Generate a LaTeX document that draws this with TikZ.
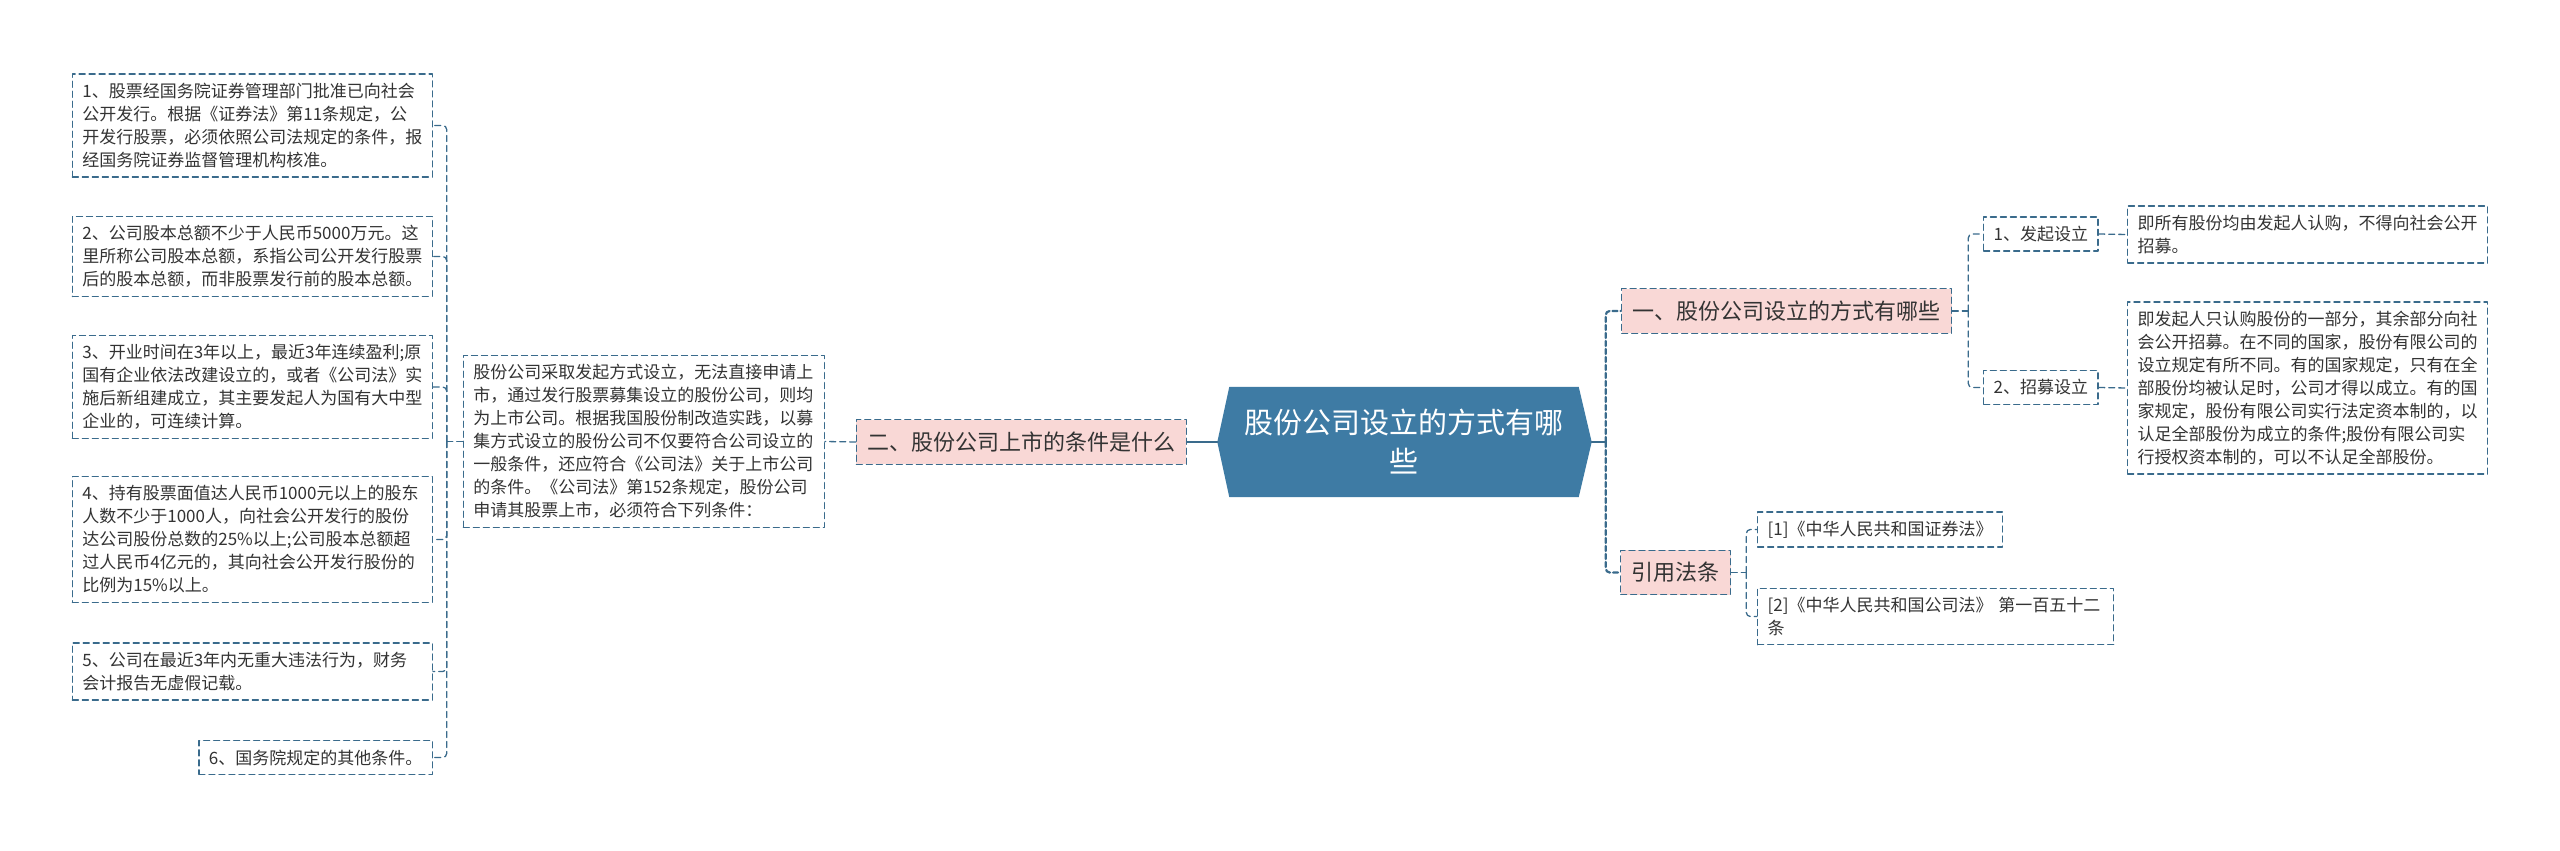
\documentclass[tikz,border=0pt]{standalone}
\usepackage{fontspec}
\setmainfont{Noto Sans CJK SC}
\usepackage{xcolor}
\usetikzlibrary{backgrounds,calc,positioning}
\definecolor{mmline}{HTML}{3A6B8C}
\definecolor{mmroot}{HTML}{3E7BA4}
\definecolor{mmpink}{HTML}{F9D8D6}
\definecolor{mmtext}{HTML}{333333}
\tikzset{
  every picture/.append style={line cap=round,line join=round},
  mm dash/.style={draw=mmline,line width=1.3pt,dash pattern=on 6pt off 4pt},
  mm leaf/.style={mm dash,fill=white,text=mmtext,inner xsep=10pt,inner ysep=9pt,align=left,font=\fontsize{17}{23}\selectfont},
  mm para/.style={mm leaf,text width=#1},
  mm topic/.style={mm dash,fill=mmpink,text=mmtext,inner xsep=11pt,inner ysep=12pt,font=\fontsize{22}{28}\selectfont},
  mm root/.style={minimum width=349pt,minimum height=110pt,text=white,align=center,font=\fontsize{29}{39}\selectfont},
  mm link/.style={mmline,line width=1.3pt,dash pattern=on 6pt off 4pt,rounded corners=4pt},
  mm trunk/.style={mmline,line width=2.2pt}
}

\begin{document}
\begin{tikzpicture}[x=1pt,y=-1pt]
  \useasboundingbox (0,0) rectangle (2560,851);

  \node[mm root] (root) at (1404,442) {股份公司设立的方式有哪\\些};
  \begin{scope}[on background layer]
    \fill[white] (0,0) rectangle (2560,851);
    \fill[mmroot] (root.north west) -- (root.north east) -- ([xshift=13pt]root.east)
      -- (root.south east) -- (root.south west) -- ([xshift=-12pt]root.west) -- cycle;
  \end{scope}
  \coordinate (rootL) at ([xshift=-12pt]root.west);
  \coordinate (rootR) at ([xshift=13pt]root.east);

  \node[mm topic, anchor=east] (n2) at (1187,442) {二、股份公司上市的条件是什么};
  \node[mm para=341pt, anchor=east] (mid) at (825,441.5) {股份公司采取发起方式设立，无法直接申请上\\市，通过发行股票募集设立的股份公司，则均\\为上市公司。根据我国股份制改造实践，以募\\集方式设立的股份公司不仅要符合公司设立的\\一般条件，还应符合《公司法》关于上市公司\\的条件。《公司法》第152条规定，股份公司\\申请其股票上市，必须符合下列条件：};

  \node[mm para=340pt, anchor=east] (c1) at (433,125.5) {1、股票经国务院证券管理部门批准已向社会\\公开发行。根据《证券法》第11条规定，公\\开发行股票，必须依照公司法规定的条件，报\\经国务院证券监督管理机构核准。};
  \node[mm para=340pt, anchor=east] (c2) at (433,256.5) {2、公司股本总额不少于人民币5000万元。这\\里所称公司股本总额，系指公司公开发行股票\\后的股本总额，而非股票发行前的股本总额。};
  \node[mm para=340pt, anchor=east] (c3) at (433,387) {3、开业时间在3年以上，最近3年连续盈利;原\\国有企业依法改建设立的，或者《公司法》实\\施后新组建成立，其主要发起人为国有大中型\\企业的，可连续计算。};
  \node[mm para=340pt, anchor=east] (c4) at (433,539.5) {4、持有股票面值达人民币1000元以上的股东\\人数不少于1000人，向社会公开发行的股份\\达公司股份总数的25\%以上;公司股本总额超\\过人民币4亿元的，其向社会公开发行股份的\\比例为15\%以上。};
  \node[mm para=340pt, anchor=east] (c5) at (433,671.5) {5、公司在最近3年内无重大违法行为，财务\\会计报告无虚假记载。};
  \node[mm leaf, anchor=east] (c6) at (433,757.5) {6、国务院规定的其他条件。};

  \node[mm topic, anchor=west] (n1) at (1621,311) {一、股份公司设立的方式有哪些};
  \node[mm leaf, anchor=west] (a1) at (1983,234) {1、发起设立};
  \node[mm leaf, anchor=west] (a2) at (1983,387.5) {2、招募设立};
  \node[mm para=340pt, anchor=west] (b1) at (2127,234.5) {即所有股份均由发起人认购，不得向社会公开\\招募。};
  \node[mm para=340pt, anchor=west] (b2) at (2127,388) {即发起人只认购股份的一部分，其余部分向社\\会公开招募。在不同的国家，股份有限公司的\\设立规定有所不同。有的国家规定，只有在全\\部股份均被认足时，公司才得以成立。有的国\\家规定，股份有限公司实行法定资本制的，以\\认足全部股份为成立的条件;股份有限公司实\\行授权资本制的，可以不认足全部股份。};

  \node[mm topic, anchor=west] (n3) at (1620,572.5) {引用法条};
  \node[mm leaf, anchor=west] (r1) at (1757,529.5) {[1]《中华人民共和国证券法》};
  \node[mm para=336pt, anchor=west] (r2) at (1757,616.5) {[2]《中华人民共和国公司法》~第一百五十二\\条};

  \draw[mm trunk] (rootL) -- (n2.east);
  \draw[mm link] (n2.west) -- (mid.east);
  \draw[mm link] (mid.west) -- ++(-16,0) coordinate (lspine);
  \foreach \c in {c1,c2,c3,c4,c5,c6}
    \draw[mm link] (lspine) |- (\c.east);

  \draw[mm trunk] (rootR) -- ++(14,0) coordinate (rspine);
  \draw[mm link, line width=2.2pt, dash pattern=on 5pt off 3pt] (rspine) |- (n1.west);
  \draw[mm link, line width=2.2pt, dash pattern=on 5pt off 3pt] (rspine) |- (n3.west);

  \draw[mm link] (n1.east) -- ++(16,0) coordinate (s1);
  \draw[mm link] (s1) |- (a1.west);
  \draw[mm link] (s1) |- (a2.west);
  \draw[mm link] (a1.east) -- (b1.west);
  \draw[mm link] (a2.east) -- (b2.west);

  \draw[mm link] (n3.east) -- ++(15,0) coordinate (s3);
  \draw[mm link] (s3) |- (r1.west);
  \draw[mm link] (s3) |- (r2.west);
\end{tikzpicture}
\end{document}
